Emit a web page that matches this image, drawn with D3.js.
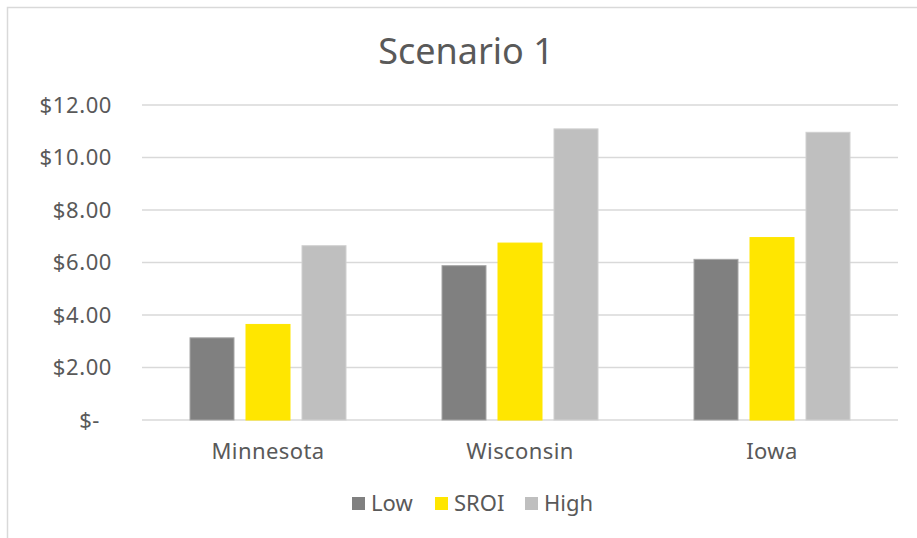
<!DOCTYPE html>
<html>
<head>
<meta charset="utf-8">
<style>
  body { margin: 0; background: #fff; }
  text { font-family: "Noto Sans", sans-serif; fill: #595959; }
</style>
</head>
<body>
<div id="chart"></div>
<script src="https://cdn.jsdelivr.net/npm/d3@7"></script>
<script>
// data
var states = ["Minnesota", "Wisconsin", "Iowa"];
var series = ["Low", "SROI", "High"];
var lowVals = [3.13, 5.88, 6.12];
var sroiVals = [3.64, 6.74, 6.95];
var highVals = [6.64, 11.09, 10.96];
var yTicks = [0, 2, 4, 6, 8, 10, 12];
var colors = ["#808080", "#ffe600", "#bfbfbf"];
var strokes = ["#a6a6a6", "#ffe600", "#d0d0d0"];

var w = 917, h = 538;
var svg = d3.select("#chart").append("svg")
    .attr("width", w)
    .attr("height", h);

// chart frame
svg.append("rect")
    .attr("x", 7.5).attr("y", 7.5)
    .attr("width", w).attr("height", h)
    .attr("fill", "none")
    .attr("stroke", "#d9d9d9")
    .attr("stroke-width", 1.5);

var x0 = d3.scaleBand().domain(states).range([142, 898]);
var x1 = d3.scaleBand().domain(series).range([48, 204]).paddingInner(12 / 56);
var y = d3.scaleLinear().domain([0, 12]).range([420, 105]);

// gridlines
svg.append("g")
  .selectAll("line")
  .data(yTicks)
  .enter().append("line")
    .attr("x1", 142).attr("x2", 898)
    .attr("y1", function(d) { return y(d); })
    .attr("y2", function(d) { return y(d); })
    .attr("stroke", "#d9d9d9")
    .attr("stroke-width", 1.5);

// y axis labels
var yAxis = d3.axisLeft(y)
    .tickValues(yTicks)
    .tickSize(0)
    .tickPadding(0)
    .tickFormat(function(d) { return d === 0 ? "$-" : "$" + d.toFixed(2); });
var yg = svg.append("g")
    .attr("transform", "translate(112,0)")
    .call(yAxis);
yg.select(".domain").remove();
yg.selectAll("text")
    .style("font-size", "22px")
    .style("letter-spacing", "0.6px")
    .style("font-family", "Noto Sans")
    .attr("fill", "#595959");
yg.selectAll(".tick").filter(function(d) { return d === 0; })
  .select("text").attr("x", -12);

// bars
var rows = states.map(function(s, i) {
  return { state: s, vals: [lowVals[i], sroiVals[i], highVals[i]] };
});
var groups = svg.selectAll(".grp")
  .data(rows)
  .enter().append("g")
    .attr("class", "grp")
    .attr("transform", function(d) { return "translate(" + x0(d.state) + ",0)"; });

groups.selectAll("rect")
  .data(function(d) { return d.vals.map(function(v, j) { return { k: series[j], v: v, j: j }; }); })
  .enter().append("rect")
    .attr("x", function(d) { return x1(d.k); })
    .attr("width", x1.bandwidth())
    .attr("y", function(d) { return y(d.v); })
    .attr("height", function(d) { return y(0) - y(d.v); })
    .attr("fill", function(d) { return colors[d.j]; })
    .attr("stroke", function(d) { return strokes[d.j]; })
    .attr("stroke-width", 1);

// x axis labels
var xAxis = d3.axisBottom(x0).tickSize(0).tickPadding(0);
var xg = svg.append("g")
    .attr("transform", "translate(0,443)")
    .call(xAxis);
xg.select(".domain").remove();
xg.selectAll("text")
    .style("font-size", "22px")
    .style("letter-spacing", "0.4px")
    .style("font-family", "Noto Sans")
    .attr("fill", "#595959");

// title
svg.append("text")
    .attr("x", 466)
    .attr("y", 64)
    .attr("text-anchor", "middle")
    .style("font-size", "36px")
    .text("Scenario 1");

// legend
var legX = [352, 435, 525];
var leg = svg.selectAll(".leg")
  .data(series)
  .enter().append("g")
    .attr("class", "leg")
    .attr("transform", function(d, i) { return "translate(" + legX[i] + ",497)"; });
leg.append("rect")
    .attr("width", 13).attr("height", 13)
    .attr("fill", function(d, i) { return colors[i]; });
leg.append("text")
    .attr("x", 19)
    .attr("y", 14)
    .style("font-size", "22px")
    .text(function(d) { return d; });
</script>
</body>
</html>
